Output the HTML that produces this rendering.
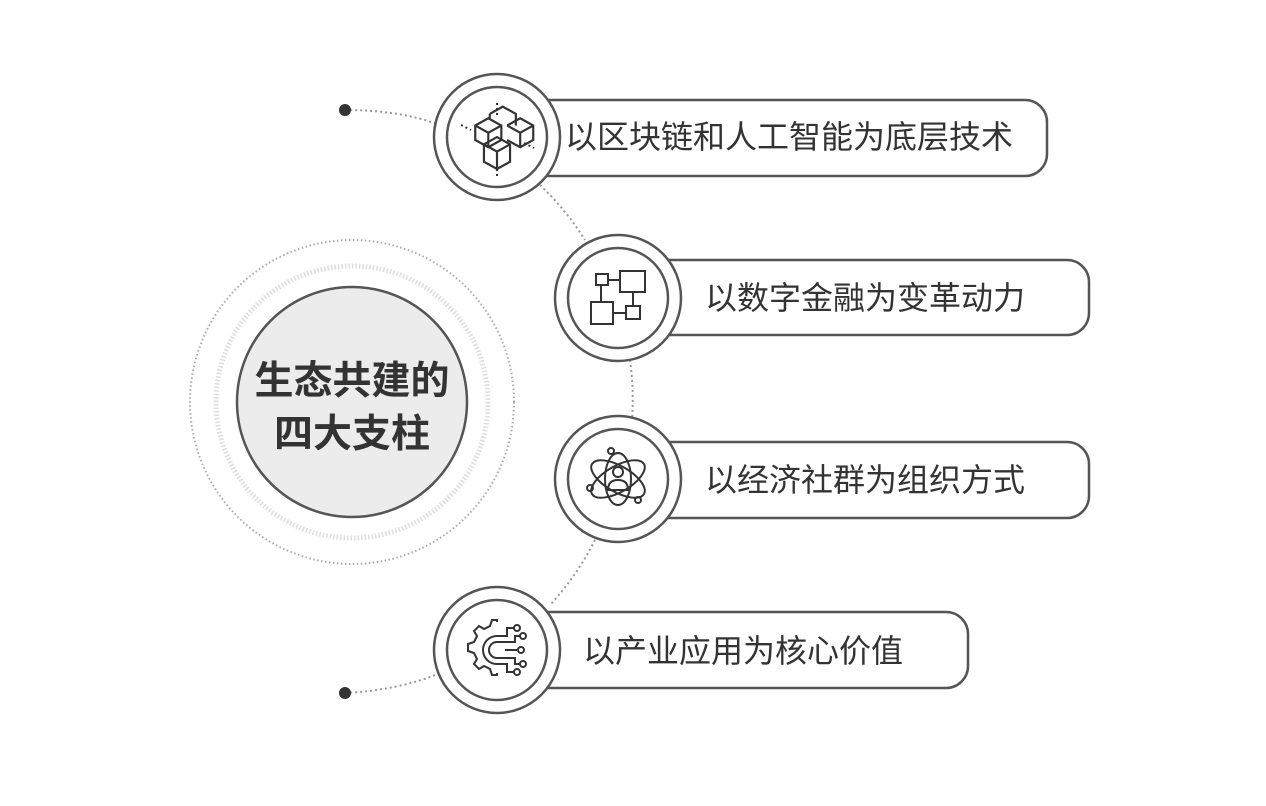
<!DOCTYPE html>
<html><head><meta charset="utf-8"><style>
html,body{margin:0;padding:0;background:#fff;}
svg{display:block}
text{font-family:"Liberation Sans","Noto Sans CJK SC",sans-serif;fill:#333;}
</style></head><body>
<svg width="1266" height="806" viewBox="0 0 1266 806" xmlns="http://www.w3.org/2000/svg">
<g fill="none" stroke="#999" stroke-width="2" stroke-dasharray="2 3">
<path d="M345 110 Q400 110 440 125"/>
<path d="M345 693 Q400 690 440 673"/>
<path d="M540 185 A282 282 0 0 1 585 240"/>
<path d="M630 360 A282 282 0 0 1 632 420"/>
<path d="M595 540 A282 282 0 0 1 550 605"/>
</g>
<circle cx="345" cy="110" r="6" fill="#333"/>
<circle cx="345" cy="693" r="6" fill="#333"/>
<circle cx="352" cy="402" r="162" fill="none" stroke="#aaa" stroke-width="2" stroke-dasharray="1.5 2.5"/>
<circle cx="352" cy="402" r="136" fill="none" stroke="#ddd" stroke-width="5" stroke-dasharray="1.5 2"/>
<circle cx="352" cy="402" r="115" fill="#ececec" stroke="#555" stroke-width="2.5"/>
<text x="352" y="394" font-size="39" font-weight="bold" text-anchor="middle">生态共建的</text>
<text x="352" y="447" font-size="39" font-weight="bold" text-anchor="middle">四大支柱</text>
<g stroke="#555" stroke-width="2.5" fill="#fff">
<rect x="497" y="100" width="550" height="76" rx="22"/>
<circle cx="497" cy="137" r="63"/><circle cx="497" cy="137" r="50"/>
<rect x="618" y="260" width="471" height="75" rx="22"/>
<circle cx="618" cy="298" r="63"/><circle cx="618" cy="298" r="50"/>
<rect x="618" y="442" width="471" height="76" rx="22"/>
<circle cx="618" cy="479" r="63"/><circle cx="618" cy="479" r="50"/>
<rect x="497" y="612" width="471" height="76" rx="22"/>
<circle cx="497" cy="650" r="63"/><circle cx="497" cy="650" r="50"/>
</g>
<g fill="none" stroke="#333" stroke-width="2">
<g transform="translate(497 140) scale(1.45) translate(-497 -140)" stroke-width="1.5">
<path d="M482 130 l9 -5 9 5 v10 l-9 5 -9 -5z M482 130 l9 5 9 -5 M491 135 v10"/>
<path d="M492 122 l9 -5 9 5 v8 M492 122 v3"/>
<path d="M504 130 l9 -5 9 5 v10 l-9 5 -9 -5 M513 135 v10 M504 130 l9 5 9 -5"/>
<path d="M488 143 l9 -5 9 5 v12 l-9 5 -9 -5z M488 143 l9 5 9 -5 M497 148 v12"/>
</g>
<path d="M497 103 v14 M497 164 v14 M461 125 l10 5 M524 143 l10 5" stroke-dasharray="2 3"/>
<rect x="596" y="274" width="12" height="11"/><rect x="620" y="271" width="25" height="21"/>
<rect x="591" y="302" width="22" height="22"/><rect x="626" y="306" width="14" height="13"/>
<path d="M608 280 h12 M601 285 v17 M633 292 v14 M613 313 h13"/>
<ellipse cx="618" cy="479" rx="30" ry="13" transform="rotate(30 618 479)"/>
<ellipse cx="618" cy="479" rx="30" ry="13" transform="rotate(-30 618 479)"/>
<ellipse cx="618" cy="479" rx="13" ry="26"/>
<circle cx="618" cy="472" r="5"/><path d="M608 490 q0 -10 10 -10 q10 0 10 10z"/>
<circle cx="611" cy="451" r="3"/><circle cx="590" cy="488" r="3"/><circle cx="638" cy="500" r="3"/>
<path d="M497 622 v-2 h-5 l-2 6 -6 3 -5 -3 -5 5 3 5 -3 6 -6 2 v7 l6 2 3 6 -3 5 5 5 5 -3 6 3 2 6 h5 v-2"/>
<path d="M497 636 a14 14 0 0 0 0 28 M497 642 a8 8 0 0 0 0 16"/>
<path d="M497 636 h10 v-8 h7 M497 642 h18 v-6 h5 M505 650 h12 M497 658 h18 v6 h5 M497 664 h10 v8 h7"/>
<circle cx="517" cy="628" r="3"/><circle cx="523" cy="636" r="3"/><circle cx="521" cy="650" r="3"/><circle cx="523" cy="664" r="3"/><circle cx="517" cy="672" r="3"/>
</g>
<text x="565" y="148" font-size="32">以区块链和人工智能为底层技术</text>
<text x="705" y="309" font-size="32">以数字金融为变革动力</text>
<text x="705" y="491" font-size="32">以经济社群为组织方式</text>
<text x="583" y="662" font-size="32">以产业应用为核心价值</text>
</svg>
</body></html>
